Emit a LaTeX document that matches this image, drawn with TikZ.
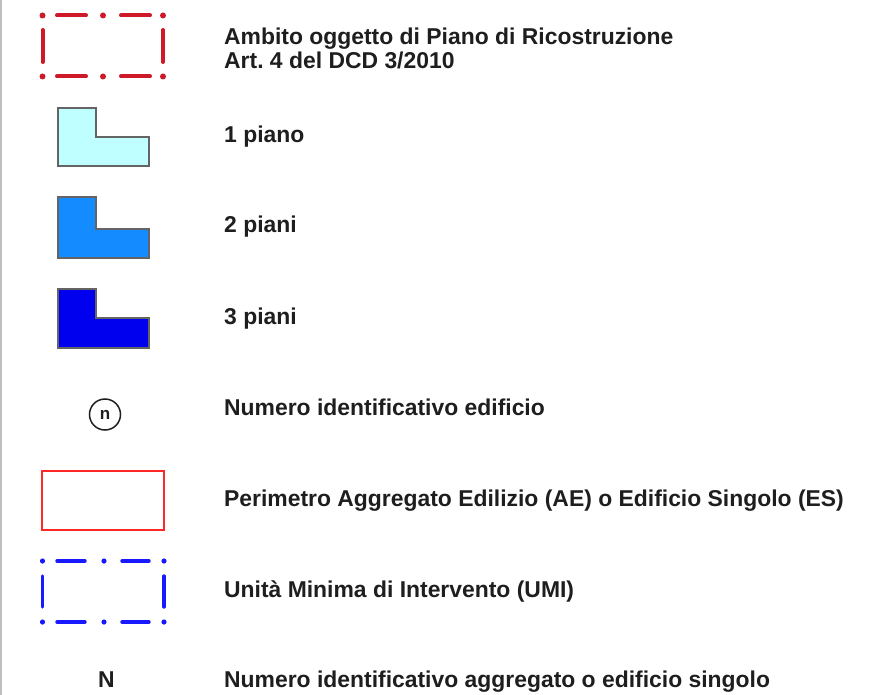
\documentclass[tikz,border=0pt]{standalone}
\usepackage{fontspec}
\setmainfont{Liberation Sans}
\frenchspacing
\definecolor{ambred}{RGB}{205,25,40}
\definecolor{perred}{RGB}{255,40,40}
\definecolor{umiblue}{RGB}{25,25,255}
\definecolor{onep}{RGB}{192,255,255}
\definecolor{twop}{RGB}{20,140,255}
\definecolor{threep}{RGB}{0,0,238}
\definecolor{edge}{RGB}{100,100,100}
\definecolor{txt}{RGB}{30,30,30}
\begin{document}
\begin{tikzpicture}[x=1pt,y=-1pt,
  lbl/.style={anchor=base west,inner sep=0pt,text=txt,font=\fontsize{22.9}{27}\selectfont\bfseries,align=left},
  ambdash/.style={draw=ambred,line width=4pt,line cap=round},
  ambdot/.style={fill=ambred,draw=none},
  umidash/.style={draw=umiblue,line width=3.4pt,line cap=round},
  umidot/.style={fill=umiblue,draw=none},
  lshape/.style={draw=edge,line width=2pt,line join=miter},
  perim/.style={draw=perred,line width=2.5pt}]
\useasboundingbox (0,0) rectangle (878,695);
% left border
\draw[draw=black!25,line width=1.5pt] (0.75,0) -- (0.75,695);

% Ambito (red dash-dot)
\foreach \x in {42.5,103,163} \foreach \y in {15.5,76.5} \fill[ambdot] (\x,\y) circle (3pt);
\foreach \y in {15.5,76.5} {
  \draw[ambdash] (57,\y) -- (86,\y);
  \draw[ambdash] (121,\y) -- (150,\y);
}
\foreach \x in {42.5,163} \draw[ambdash] (\x,30) -- (\x,62);

% L shapes
\draw[lshape,fill=onep] (57.5,108) -- (95.5,108) -- (95.5,137.5) -- (148.5,137.5) -- (148.5,166.5) -- (57.5,166.5) -- cycle;
\draw[lshape,fill=twop] (57.5,197.5) -- (95.5,197.5) -- (95.5,229) -- (148.5,229) -- (148.5,258) -- (57.5,258) -- cycle;
\draw[lshape,fill=threep] (57.5,288.5) -- (95.5,288.5) -- (95.5,318) -- (148.5,318) -- (148.5,348) -- (57.5,348) -- cycle;

% circle n
\node[circle,draw=txt,line width=1.5pt,minimum size=31pt,inner sep=0pt,text=txt,font=\fontsize{17}{17}\selectfont\bfseries] (circ) at (105,414.5) {n};

% perimetro
\draw[perim] (42,471) rectangle (164,530);

% UMI (blue dash-dot)
\foreach \x in {42.5,104,164} \foreach \y in {561,622} \fill[umidot] (\x,\y) circle (2.6pt);
\foreach \y in {561,622} {
  \draw[umidash] (57,\y) -- (85,\y);
  \draw[umidash] (122,\y) -- (149,\y);
}
\foreach \x in {42.5,164} \draw[umidash] (\x,576) -- (\x,607);

% N
\node[lbl,anchor=base] (nn) at (106.5,687) {N};

% labels
\node[lbl] (l1) at (224,44.5) {Ambito oggetto di Piano di Ricostruzione};
\node[lbl] (l1b) at (224,69) {Art. 4 del DCD 3/2010};
\node[lbl] (l2) at (224,142.5) {1 piano};
\node[lbl] (l3) at (224,233) {2 piani};
\node[lbl] (l4) at (224,324.5) {3 piani};
\node[lbl] (l5) at (224,415.5) {Numero identificativo edificio};
\node[lbl] (l6) at (224,506) {Perimetro Aggregato Edilizio (AE) o Edificio Singolo (ES)};
\node[lbl] (l7) at (224,597) {Unità Minima di Intervento (UMI)};
\node[lbl] (l8) at (224,687) {Numero identificativo aggregato o edificio singolo};
\end{tikzpicture}
\end{document}
